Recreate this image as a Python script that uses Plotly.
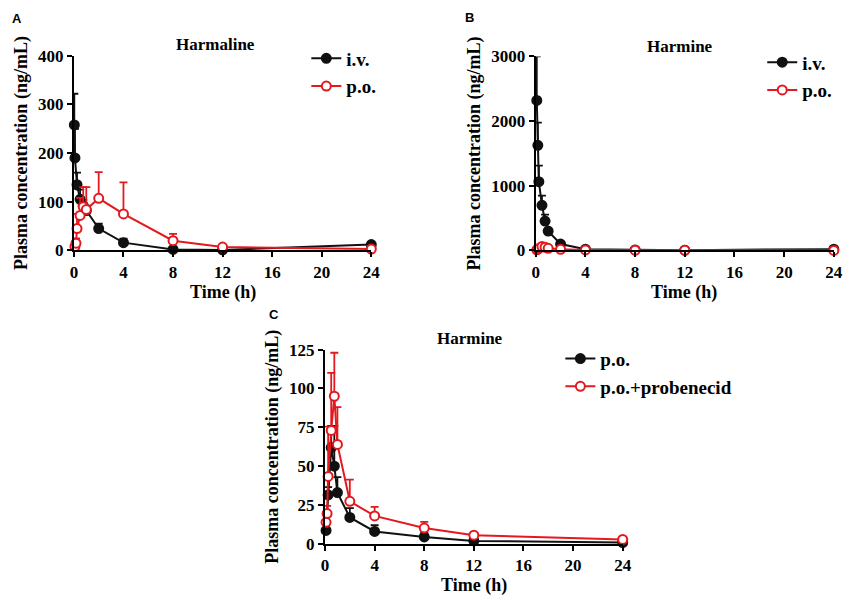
import plotly.graph_objects as go

W, H = 851, 603

# ---------------- data ----------------
A_iv_t = [0.033, 0.083, 0.25, 0.5, 0.75, 1, 2, 4, 8, 12, 24]
A_iv_c = [258, 190, 135, 105, 92, 82, 45, 16, 2, 1, 12]
A_iv_e = [64, 60, 25, 20, 12, 10, 10, 8, 1, 1, 3]

A_po_t = [0.083, 0.167, 0.25, 0.5, 0.75, 1, 2, 4, 8, 12, 24]
A_po_c = [8, 15, 45, 72, 90, 84, 107, 75, 20, 7, 3]
A_po_e = [10, 10, 30, 36, 40, 46, 54, 65, 14, 2, 1]

B_iv_t = [0.083, 0.167, 0.25, 0.5, 0.75, 1, 2, 4, 8, 12, 24]
B_iv_c = [2320, 1626, 1063, 698, 454, 299, 99, 20, 8, 5, 20]
B_iv_e = [680, 350, 250, 150, 100, 40, 20, 5, 2, 1, 5]

B_po_t = [0.083, 0.167, 0.25, 0.5, 0.75, 1, 2, 4, 8, 12, 24]
B_po_c = [9, 20, 32, 62, 50, 33, 17, 8, 4.5, 1.9, 0.9]
B_po_e = [3, 5, 5, 14, 26, 10, 6, 4, 2.5, 1, 0.5]

C_po_t = [0.083, 0.25, 0.5, 0.75, 1, 2, 4, 8, 12, 24]
C_po_c = [8.7, 31.5, 62, 50, 33, 17, 8, 4.5, 1.9, 0.9]
C_po_e = [3, 5, 14, 26, 10, 6, 4, 2.5, 1, 0.5]

C_pb_t = [0.083, 0.167, 0.25, 0.5, 0.75, 1, 2, 4, 8, 12, 24]
C_pb_c = [13.9, 19.5, 43.4, 73, 95, 64, 27.4, 18, 10.2, 5.6, 2.9]
C_pb_e = [3, 5, 32, 37, 28, 24, 14, 5.8, 4, 1, 0.5]

x_ticks = [0, 4, 8, 12, 16, 20, 24]
A_yticks = [0, 100, 200, 300, 400]
B_yticks = [0, 1000, 2000, 3000]
C_yticks = [0, 25, 50, 75, 100, 125]

RED = "#e3191f"
BLACK = "#111111"
SERIF = "Liberation Serif"


def px_x(p):
    return p / W


def px_y(p):
    return 1 - p / H


fig = go.Figure()


def add_series(t, c, e, name, filled, xa, ya, legend):
    color = BLACK if filled else RED
    fig.add_trace(go.Scatter(
        x=t, y=c, name=name, mode="lines+markers",
        xaxis=xa, yaxis=ya, legend=legend, cliponaxis=False,
        line=dict(color=color, width=2),
        marker=dict(symbol="circle", size=9,
                    color=color if filled else "white",
                    line=dict(color=color, width=2)),
        error_y=dict(type="data", symmetric=False, array=e,
                     arrayminus=[0] * len(e), color=color,
                     thickness=1.8, width=4),
    ))


add_series(A_iv_t, A_iv_c, A_iv_e, "i.v.", True, "x", "y", "legend")
add_series(A_po_t, A_po_c, A_po_e, "p.o.", False, "x", "y", "legend")
add_series(B_iv_t, B_iv_c, B_iv_e, "i.v.", True, "x2", "y2", "legend2")
add_series(B_po_t, B_po_c, B_po_e, "p.o.", False, "x2", "y2", "legend2")
add_series(C_po_t, C_po_c, C_po_e, "p.o.", True, "x3", "y3", "legend3")
add_series(C_pb_t, C_pb_c, C_pb_e, "p.o.+probenecid", False, "x3", "y3", "legend3")

tickfont = dict(family=SERIF, size=17, color="black", weight="bold")
titlefont = dict(family=SERIF, size=18, color="black", weight="bold")


def xaxis(dom, anchor):
    return dict(domain=dom, anchor=anchor, range=[0, 24], tickvals=x_ticks,
                showline=True, linecolor="black", linewidth=2, ticks="outside",
                ticklen=5, tickwidth=2, tickcolor="black", showgrid=False,
                zeroline=False, tickfont=tickfont)


def yaxis(dom, anchor, rng, tv, standoff):
    return dict(domain=dom, anchor=anchor, range=rng, tickvals=tv,
                showline=True, linecolor="black", linewidth=2, ticks="outside",
                ticklen=5, tickwidth=2, tickcolor="black", showgrid=False,
                zeroline=False, tickfont=tickfont,
                title=dict(text="Plasma concentration (ng/mL)", font=titlefont,
                           standoff=standoff))


legfont = dict(family=SERIF, size=19, color="black", weight="bold")


def legend(xp, yp):
    return dict(x=px_x(xp), y=px_y(yp), xanchor="left", yanchor="top",
                font=legfont, bgcolor="rgba(0,0,0,0)", itemwidth=30,
                tracegroupgap=0)


fig.update_layout(
    width=W, height=H, paper_bgcolor="white", plot_bgcolor="white",
    margin=dict(l=0, r=0, t=0, b=0),
    xaxis=xaxis([px_x(71), px_x(373)], "y"),
    yaxis=yaxis([px_y(249.3), px_y(48.3)], "x", [0, 400], A_yticks, 6),
    xaxis2=xaxis([px_x(540), px_x(842.7)], "y2"),
    yaxis2=yaxis([px_y(249.3), px_y(49)], "x2", [0, 3000], B_yticks, 6),
    xaxis3=xaxis([px_x(326), px_x(628.3)], "y3"),
    yaxis3=yaxis([px_y(552.3), px_y(351.7)], "x3", [0, 125], C_yticks, 6),
    legend=legend(307, 31.5),
    legend2=legend(770, 35.5),
    legend3=legend(565, 341.5),
    showlegend=True,
)

ann_font = dict(family=SERIF, size=17, color="black", weight="bold")
xt_font = dict(family=SERIF, size=18, color="black", weight="bold")
letter_font = dict(family="Liberation Sans", size=13, color="black", weight="bold")
for txt, x, y, f in [("Harmaline", 215, 37, ann_font), ("Harmine", 686, 39, ann_font),
                     ("Harmine", 473, 340, ann_font),
                     ("Time (h)", 222, 293, xt_font), ("Time (h)", 691, 293, xt_font),
                     ("Time (h)", 477, 595.5, xt_font),
                     ("A", 13, 10, letter_font), ("B", 473, 9, letter_font),
                     ("C", 274, 315, letter_font)]:
    fig.add_annotation(text=txt, x=px_x(x), y=px_y(y), xref="paper", yref="paper",
                       showarrow=False, font=f, xanchor="center", yanchor="middle")

fig.write_html("out.html", config={"displayModeBar": False},
               post_script="document.body.style.margin='0';document.body.style.padding='0';document.body.style.overflow='hidden';")
